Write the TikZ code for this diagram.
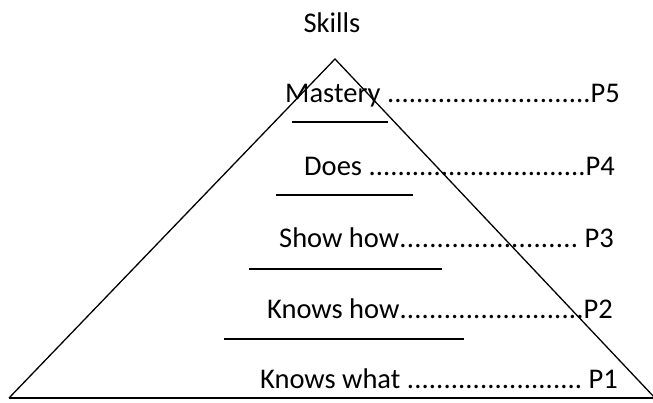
\documentclass[tikz,border=0pt]{standalone}
\usepackage{fontspec}
\setmainfont{Carlito}
% a label, a run of dots filling the given width, then the level code
\newcommand{\levelrow}[3]{\makebox[#1][l]{#2\xleaders\hbox{.}\hfill#3}}
\begin{document}
\begin{tikzpicture}[x=1pt,y=-1pt,
  edge/.style={line width=1.3pt, line join=miter},
  bar/.style={line width=2pt},
  lvl/.style={anchor=base west, inner sep=0pt, font=\fontsize{28.5}{32}\selectfont},
  ttl/.style={anchor=base, inner sep=0pt, font=\fontsize{28.5}{32}\selectfont}]
\useasboundingbox (0,0) rectangle (653,403);

% pyramid outline
\coordinate (apex) at (335,59);
\coordinate (bl) at (9,398);
\coordinate (br) at (655,398);
\begin{scope}
\clip (0,0) rectangle (653,403);
\draw[edge] (bl) -- (apex) -- (br);
\draw[bar] (bl) -- (br);
\end{scope}

% title
\node[ttl] (skills) at (332,33) {Skills};

% level labels
\node[lvl] (p5) at (285,103) {\levelrow{335pt}{Mastery }{P5}};
\node[lvl] (p4) at (304,176) {\levelrow{311pt}{Does }{P4}};
\node[lvl] (p3) at (279,248) {\levelrow{335pt}{Show how}{ P3}};
\node[lvl] (p2) at (267,318) {\levelrow{346pt}{Knows how}{P2}};
\node[lvl] (p1) at (260,388) {\levelrow{358pt}{Knows what }{ P1}};

% separators between levels
\coordinate (s1a) at (292,122); \coordinate (s1b) at (388,122);
\coordinate (s2a) at (276,195); \coordinate (s2b) at (413,195);
\coordinate (s3a) at (249,269); \coordinate (s3b) at (442,269);
\coordinate (s4a) at (224,339); \coordinate (s4b) at (464,339);
\draw[bar] (s1a) -- (s1b);
\draw[bar] (s2a) -- (s2b);
\draw[bar] (s3a) -- (s3b);
\draw[bar] (s4a) -- (s4b);
\end{tikzpicture}
\end{document}
